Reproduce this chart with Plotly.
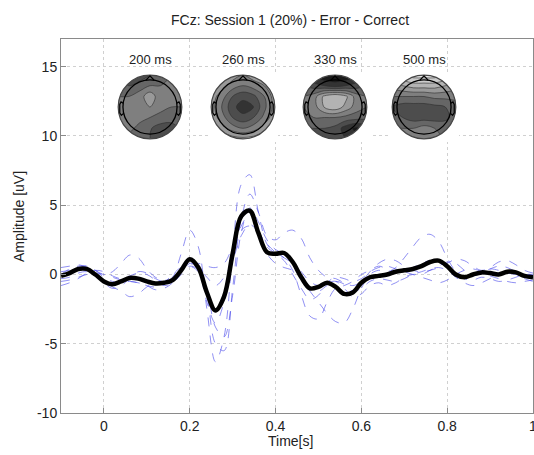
import numpy as np
import plotly.graph_objects as go

# ---------------- data ----------------
time_s = [-0.10, -0.08, -0.06, -0.04, -0.02, 0.00, 0.02, 0.04, 0.06, 0.08,
          0.10, 0.12, 0.14, 0.16, 0.18, 0.20, 0.22, 0.24, 0.26, 0.28,
          0.30, 0.32, 0.34, 0.36, 0.38, 0.40, 0.42, 0.44, 0.46, 0.48,
          0.50, 0.52, 0.54, 0.56, 0.58, 0.60, 0.62, 0.64, 0.66, 0.68,
          0.70, 0.72, 0.74, 0.76, 0.78, 0.80, 0.82, 0.84, 0.86, 0.88,
          0.90, 0.92, 0.94, 0.96, 0.98, 1.00]

grand_average = [-0.1, 0.1, 0.4, 0.4, 0.0, -0.5, -0.7, -0.5, -0.25, -0.3,
                 -0.5, -0.65, -0.6, -0.4, 0.3, 1.1, 0.5, -1.3, -2.6, -1.6,
                 1.5, 4.2, 4.6, 3.0, 1.6, 1.5, 1.55, 0.9, -0.2, -1.0,
                 -0.9, -0.6, -0.9, -1.4, -1.3, -0.6, -0.2, -0.1, 0.0, 0.2,
                 0.3, 0.4, 0.6, 0.9, 1.0, 0.6, 0.0, -0.2, 0.0, 0.15,
                 0.1, 0.0, 0.2, 0.15, -0.1, -0.2]

subject_1 = [0.5, 0.6, 0.7, 0.5, 0.0, -0.6, -1.0, -0.8, -0.3, 0.2,
             0.1, -0.3, -0.5, -0.2, 1.5, 3.2, 2.0, -2.5, -6.3, -4.5,
             1.5, 6.5, 7.2, 4.5, 2.2, 1.6, 1.2, 0.3, -1.5, -3.0,
             -3.2, -2.0, -1.0, -0.8, -0.5, 0.0, 0.3, 0.6, 0.4, 0.2,
             0.3, 0.5, 0.8, 1.0, 0.9, 0.5, 0.0, -0.3, -0.1, 0.2,
             0.4, 0.3, 0.1, 0.0, -0.3, -0.5]
subject_2 = [0.2, 0.3, 0.5, 0.6, 0.3, -0.2, -0.5, -0.6, -0.5, -0.6,
             -0.8, -0.9, -0.6, 0.0, 0.5, 0.6, 0.2, -1.5, -5.0, -5.5,
             -1.0, 4.0, 5.8, 4.5, 2.8, 2.5, 3.0, 3.2, 2.6, 1.2,
             0.3, -0.2, -0.3, -0.6, -0.8, -0.5, 0.2, 0.8, 1.1, 1.0,
             0.6, 0.3, 0.2, 0.3, 0.5, 0.8, 1.1, 1.0, 0.6, 0.3,
             0.5, 0.9, 1.0, 0.7, 0.3, 0.1]
subject_3 = [-0.3, -0.2, 0.1, 0.2, -0.1, -0.5, -0.9, -1.2, -1.6, -1.4,
             -0.9, -0.6, -0.5, -0.2, 0.2, 0.6, 0.4, -0.2, -0.8, -0.2,
             1.0, 2.8, 3.6, 3.0, 1.5, 0.8, 0.5, 0.3, -0.3, -1.2,
             -2.0, -2.8, -3.4, -3.5, -2.5, -1.0, 0.0, 0.3, 0.2, 0.5,
             1.2, 2.0, 2.7, 2.9, 2.4, 1.2, 0.2, -0.3, -0.4, -0.2,
             -0.3, -0.5, -0.4, -0.2, 0.0, 0.0]
subject_4 = [0.0, 0.4, 0.6, 0.6, 0.3, 0.0, 0.2, 0.8, 1.4, 1.2,
             0.4, -0.2, -0.4, -0.3, 0.3, 0.9, 0.3, -2.0, -3.5, -2.0,
             1.0, 3.5, 4.3, 3.2, 2.0, 1.5, 1.0, 0.0, -1.0, -1.8,
             -1.5, -0.6, -0.2, -0.3, -0.5, -0.3, 0.2, 0.5, 0.6, 0.4,
             0.2, 0.0, -0.2, -0.4, -0.6, -0.4, 0.0, 0.3, 0.4, 0.2,
             -0.1, -0.3, -0.5, -0.6, -0.5, -0.4]
subject_5 = [-0.5, -0.4, -0.2, 0.0, 0.1, 0.0, -0.2, -0.4, -0.5, -0.6,
             -0.8, -1.1, -1.0, -0.6, 0.2, 0.7, 0.8, 0.6, 0.5, 0.8,
             2.0, 3.2, 3.5, 3.0, 2.2, 1.6, 1.2, 0.8, 0.0, -0.9,
             -1.2, -0.8, -0.5, -0.7, -1.2, -1.0, -0.5, -0.3, -0.4, -0.5,
             -0.3, 0.0, 0.2, 0.4, 0.5, 0.3, -0.2, -0.6, -0.8, -0.6,
             -0.3, 0.0, 0.1, 0.0, -0.2, -0.3]
subject_6 = [-0.8, -0.6, -0.3, 0.1, 0.3, 0.2, -0.1, -0.3, -0.1, 0.1,
             0.0, -0.4, -0.8, -0.6, 0.0, 0.8, 0.6, -1.0, -3.8, -4.5,
             -1.5, 3.0, 4.8, 3.8, 2.5, 1.8, 1.5, 1.0, 0.2, -0.5,
             -0.8, -0.6, -0.5, -1.0, -1.6, -1.4, -0.8, -0.6, -0.8, -0.6,
             -0.2, 0.0, 0.0, 0.3, 0.6, 0.9, 0.8, 0.3, -0.1, 0.1,
             0.4, 0.6, 0.5, 0.2, 0.0, 0.0]
subjects = [subject_1, subject_2, subject_3, subject_4, subject_5, subject_6]

x_ticks = [0, 0.2, 0.4, 0.6, 0.8, 1.0]
x_tick_labels = ["0", "0.2", "0.4", "0.6", "0.8", "1"]
y_ticks = [-10, -5, 0, 5, 10, 15]
y_tick_labels = ["-10", "-5", "0", "5", "10", "15"]

# topographic maps (gray level, 0 = black, 1 = white), rows from front (top) to back
topo_times_ms = [200, 260, 330, 500]
topo_grid = [-1.0, -0.67, -0.33, 0.0, 0.33, 0.67, 1.0]
topo_200 = [[0.35, 0.30, 0.28, 0.35, 0.40, 0.45, 0.45],
            [0.40, 0.35, 0.40, 0.45, 0.45, 0.45, 0.45],
            [0.45, 0.45, 0.50, 0.62, 0.48, 0.45, 0.45],
            [0.45, 0.45, 0.50, 0.55, 0.48, 0.45, 0.45],
            [0.50, 0.50, 0.48, 0.45, 0.42, 0.40, 0.42],
            [0.50, 0.48, 0.42, 0.36, 0.30, 0.30, 0.38],
            [0.45, 0.42, 0.38, 0.35, 0.33, 0.35, 0.40]]
topo_260 = [[0.70, 0.65, 0.60, 0.55, 0.60, 0.65, 0.70],
            [0.65, 0.60, 0.50, 0.45, 0.50, 0.55, 0.65],
            [0.60, 0.50, 0.35, 0.28, 0.32, 0.45, 0.60],
            [0.60, 0.45, 0.28, 0.20, 0.25, 0.42, 0.60],
            [0.62, 0.50, 0.35, 0.28, 0.35, 0.48, 0.62],
            [0.70, 0.60, 0.50, 0.45, 0.50, 0.60, 0.70],
            [0.80, 0.75, 0.70, 0.68, 0.70, 0.75, 0.80]]
topo_330 = [[0.20, 0.10, 0.05, 0.05, 0.05, 0.10, 0.20],
            [0.35, 0.30, 0.25, 0.20, 0.25, 0.30, 0.35],
            [0.45, 0.50, 0.68, 0.75, 0.68, 0.50, 0.45],
            [0.45, 0.50, 0.66, 0.72, 0.62, 0.50, 0.45],
            [0.40, 0.45, 0.45, 0.45, 0.42, 0.40, 0.38],
            [0.35, 0.35, 0.35, 0.32, 0.20, 0.12, 0.20],
            [0.30, 0.30, 0.30, 0.30, 0.25, 0.20, 0.25]]
topo_500 = [[0.80, 0.85, 0.90, 0.90, 0.90, 0.85, 0.80],
            [0.60, 0.65, 0.70, 0.70, 0.70, 0.65, 0.60],
            [0.45, 0.45, 0.45, 0.45, 0.48, 0.48, 0.48],
            [0.35, 0.30, 0.30, 0.30, 0.32, 0.35, 0.40],
            [0.40, 0.35, 0.30, 0.30, 0.30, 0.32, 0.40],
            [0.45, 0.45, 0.45, 0.50, 0.45, 0.42, 0.45],
            [0.45, 0.45, 0.45, 0.45, 0.45, 0.45, 0.45]]
topo_maps = [topo_200, topo_260, topo_330, topo_500]

# ---------------- layout geometry ----------------
W, H = 534, 455
ML, MR, MT, MB = 61, 1, 39, 42
PW, PH = W - ML - MR, H - MT - MB
head_centers_px = [150, 243, 335, 424]
head_center_y_px = 107
half_px = 35  # half size of an inset square in pixels


def xfrac(px):
    return (px - ML) / PW


def yfrac(py):
    return (H - MB - py) / PH


FONT = "Liberation Sans, Arial, sans-serif"
TXT = "#222"

fig = go.Figure()

for s in subjects:
    fig.add_trace(go.Scatter(
        x=time_s, y=s, mode="lines",
        line=dict(color="rgba(70,70,235,0.6)", width=1, dash="dash",
                  shape="spline", smoothing=1.0),
        hoverinfo="skip", showlegend=False))

fig.add_trace(go.Scatter(
    x=time_s, y=grand_average, mode="lines",
    line=dict(color="black", width=4.5, shape="spline", smoothing=1.0),
    showlegend=False))

# circle polygon (geometry for mask / outline)
ang = np.linspace(0, 2 * np.pi, 97)
circ = " ".join(f"{'M' if i == 0 else 'L'} {np.cos(a):.4f},{np.sin(a):.4f}"
                for i, a in enumerate(ang)) + " Z"
mask_path = "M -1.12,-1.12 L 1.12,-1.12 L 1.12,1.12 L -1.12,1.12 Z " + circ
hr = 0.85
nose_path = f"M -0.13,{hr-0.01} L 0,{hr+0.13} L 0.13,{hr-0.01}"
ear_r = "M 0.84,0.12 L 0.91,0.16 L 0.95,0.08 L 0.95,-0.18 L 0.9,-0.26 L 0.83,-0.2"
ear_l = "M -0.84,0.12 L -0.91,0.16 L -0.95,0.08 L -0.95,-0.18 L -0.9,-0.26 L -0.83,-0.2"

shapes = []
annotations = []
layout_axes = {}
for i, (ms, zmap, cx) in enumerate(zip(topo_times_ms, topo_maps, head_centers_px)):
    n = i + 2
    xa, ya = f"x{n}", f"y{n}"
    fig.add_trace(go.Contour(
        x=topo_grid, y=topo_grid[::-1], z=zmap,
        xaxis=xa, yaxis=ya,
        colorscale=[[0, "rgb(0,0,0)"], [1, "rgb(255,255,255)"]],
        zmin=0, zmax=1, showscale=False,
        contours=dict(start=0.05, end=0.95, size=0.1, coloring="fill"),
        line=dict(color="rgb(45,45,45)", width=0.6, smoothing=1.0),
        hoverinfo="skip"))
    layout_axes[f"xaxis{n}"] = dict(
        domain=[xfrac(cx - half_px), xfrac(cx + half_px)],
        range=[-1.1, 1.1], visible=False, anchor=ya, fixedrange=True)
    layout_axes[f"yaxis{n}"] = dict(
        domain=[yfrac(head_center_y_px + half_px), yfrac(head_center_y_px - half_px)],
        range=[-1.1, 1.1], visible=False, anchor=xa, fixedrange=True)
    shapes.append(dict(type="path", path=mask_path, xref=xa, yref=ya,
                       fillcolor="white", fillrule="evenodd", line=dict(width=0),
                       layer="above"))
    shapes.append(dict(type="circle", x0=-1, x1=1, y0=-1, y1=1, xref=xa, yref=ya,
                       line=dict(color="rgb(70,70,70)", width=1.2), layer="above"))
    shapes.append(dict(type="circle", x0=-hr, x1=hr, y0=-hr, y1=hr, xref=xa, yref=ya,
                       line=dict(color="black", width=1.3), layer="above"))
    for p in (nose_path, ear_r, ear_l):
        shapes.append(dict(type="path", path=p, xref=xa, yref=ya,
                           line=dict(color="black", width=1.2), layer="above"))
    annotations.append(dict(
        text=f"{ms} ms", x=xfrac(cx), y=yfrac(59), xref="paper", yref="paper",
        xanchor="center", yanchor="middle", showarrow=False,
        font=dict(family=FONT, size=13, color=TXT)))

# axis titles as annotations for exact placement
annotations.append(dict(
    text="Time[s]", x=xfrac(290), y=yfrac(441), xref="paper", yref="paper",
    xanchor="center", yanchor="middle", showarrow=False,
    font=dict(family=FONT, size=14, color=TXT)))
annotations.append(dict(
    text="Amplitude [uV]", x=xfrac(19), y=yfrac(217), xref="paper", yref="paper",
    xanchor="center", yanchor="middle", showarrow=False, textangle=-90,
    font=dict(family=FONT, size=14, color=TXT)))

axis_common = dict(
    showline=True, mirror=True, linecolor="#8a8a8a", linewidth=1,
    ticks="inside", ticklen=5, tickcolor="#8a8a8a",
    showgrid=True, gridcolor="#d0d0d0", griddash="dot", gridwidth=1,
    zeroline=False, automargin=False, ticklabeloverflow="allow",
    tickfont=dict(family=FONT, size=14, color=TXT))

fig.update_layout(
    width=W, height=H,
    margin=dict(l=ML, r=MR, t=MT, b=MB, autoexpand=False),
    paper_bgcolor="white", plot_bgcolor="white",
    title=dict(text="FCz: Session 1 (20%) - Error - Correct",
               x=290 / W, xanchor="center", y=1 - 20 / H, yanchor="middle",
               font=dict(family=FONT, size=14, color=TXT)),
    xaxis=dict(range=[-0.1, 1.0], tickvals=x_ticks, ticktext=x_tick_labels,
               **axis_common),
    yaxis=dict(range=[-10, 17], tickvals=y_ticks, ticktext=y_tick_labels,
               **axis_common),
    shapes=shapes, annotations=annotations,
    showlegend=False,
    **layout_axes)

fig.write_html("out.html",
               config={"displayModeBar": False},
               post_script="document.body.style.margin='0px';document.body.style.padding='0px';")
